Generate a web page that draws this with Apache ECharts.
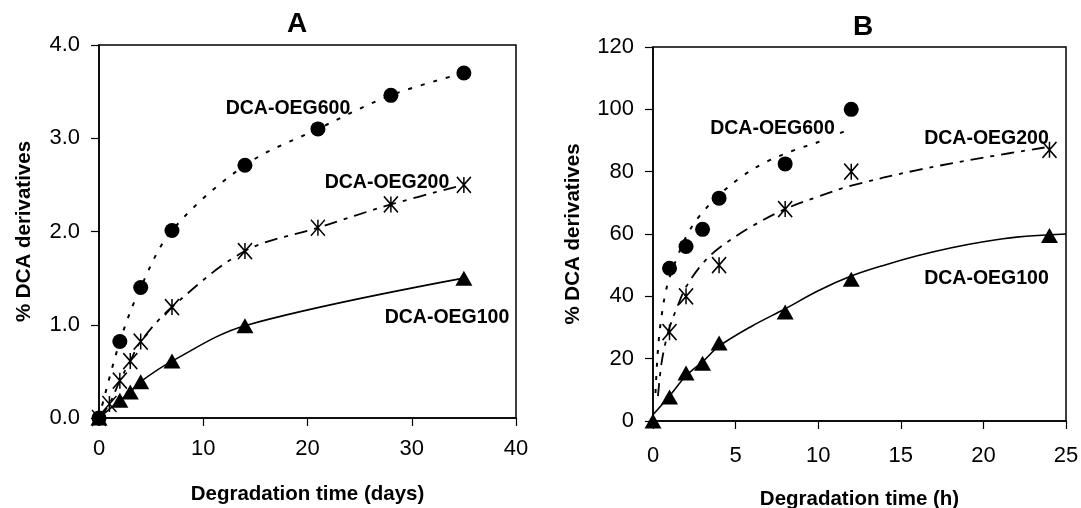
<!DOCTYPE html>
<html>
<head>
<meta charset="utf-8">
<title>DCA derivatives release</title>
<script src="https://cdn.jsdelivr.net/npm/echarts@6/dist/echarts.min.js"></script>
<style>
  html, body { margin: 0; padding: 0; background: #fff; }
  #chart { width: 1081px; height: 508px; }
</style>
</head>
<body>
<div id="chart"></div>
<script>
// ---- Panel A: release over days (measured points, smoothed through) ----
const daysA600 = [0, 2, 4, 7, 14, 21, 28, 35];
const pctA600  = [0, 0.82, 1.40, 2.01, 2.71, 3.10, 3.46, 3.70];
const daysA200 = [0, 1, 2, 3, 4, 7, 14, 21, 28, 35];
const pctA200  = [0, 0.15, 0.40, 0.61, 0.82, 1.19, 1.79, 2.04, 2.29, 2.50];
const daysA100 = [0, 2, 3, 4, 7, 14, 35];
const pctA100  = [0, 0.19, 0.28, 0.39, 0.61, 0.99, 1.50];

// ---- Panel B: release over hours (measured points) ----
const hoursB600 = [1, 2, 3, 4, 8, 12];
const pctB600   = [49, 56, 61.5, 71.5, 82.5, 100];
const hoursB200 = [1, 2, 4, 8, 12, 24];
const pctB200   = [28.5, 40, 50, 68, 80, 87];
const hoursB100 = [0, 1, 2, 3, 4, 8, 12, 24];
const pctB100   = [0, 7.7, 15.4, 18.5, 25, 35, 45.5, 59.5];

// ---- Panel B: fitted trend curves ----
const trendB600Hours = [0.15, 0.25, 0.35, 0.5, 0.75, 1, 1.5, 2, 2.7, 4, 5.4, 6.8, 8.6, 10, 11.6];
const trendB600Pct   = [9, 19, 26, 33, 41, 46, 53, 59, 65, 72.5, 78.5, 83, 87, 89.5, 93];
const trendB200Hours = [0.3, 0.5, 0.75, 1, 1.5, 2, 3, 4, 6, 8, 10, 12, 16, 20, 24];
const trendB200Pct   = [8, 18, 25, 30, 37, 43, 50.5, 55.5, 62.5, 68, 72, 75.5, 80.5, 84.5, 88];
const trendB100Hours = [0, 1, 2, 3, 4, 6, 8, 10, 12, 14, 16, 18, 20, 22, 25];
const trendB100Pct   = [2, 8, 14.5, 19, 24, 30.5, 36, 41.8, 46.5, 50, 53, 55.5, 57.5, 59, 60];

// ---- axis ticks ----
const ticksA_x = [0, 40, 10];   // min, max, step
const ticksA_y = [0, 4, 1];
const ticksB_x = [0, 25, 5];
const ticksB_y = [0, 120, 20];

const pairs = (xs, ys) => xs.map((x, i) => [x, ys[i]]);

const INK = '#000';
const tickFont = 'Liberation Sans';
const boldFont = 'Liberation Sans';
const starPath = 'path://M0 0L12 14M12 0L0 14M6 0L6 14';

const DOTTED = [4, 9];
const DASHDOT = [13, 7, 4, 7];

function xAxis(grid, t, name, gap, margin) {
  return {
    type: 'value', gridIndex: grid, min: t[0], max: t[1], interval: t[2],
    name: name, nameLocation: 'middle', nameGap: gap,
    nameTextStyle: { fontFamily: boldFont, fontWeight: 'bold', fontSize: 20.5, color: INK },
    axisLine: { show: true, onZero: false, lineStyle: { color: INK, width: 1.5 } },
    axisTick: { show: true, inside: false, length: 8, lineStyle: { color: INK, width: 1.2 } },
    axisLabel: { fontFamily: tickFont, fontSize: 22, color: INK, margin: margin },
    splitLine: { show: false }
  };
}
function yAxis(grid, t, name, gap, digits) {
  return {
    type: 'value', gridIndex: grid, min: t[0], max: t[1], interval: t[2],
    name: name, nameLocation: 'middle', nameGap: gap, nameRotate: 90,
    nameTextStyle: { fontFamily: boldFont, fontWeight: 'bold', fontSize: 20.5, color: INK },
    axisLine: { show: true, onZero: false, lineStyle: { color: INK, width: 1.5 } },
    axisTick: { show: true, inside: false, length: 8, lineStyle: { color: INK, width: 1.2 } },
    axisLabel: { fontFamily: tickFont, fontSize: 22, color: INK, margin: 19,
                 formatter: v => v.toFixed(digits) },
    splitLine: { show: false }
  };
}
function curve(idx, data, dash, width) {
  return {
    type: 'line', xAxisIndex: idx, yAxisIndex: idx, data: data,
    smooth: 0.35, showSymbol: false, symbol: 'none', silent: true,
    lineStyle: { color: INK, width: width, type: dash },
    z: 2
  };
}
function marks(idx, data, symbol, size, extra) {
  return Object.assign({
    type: 'scatter', xAxisIndex: idx, yAxisIndex: idx, data: data,
    symbol: symbol, symbolSize: size, silent: true,
    itemStyle: { color: INK, opacity: 1 },
    z: 3
  }, extra || {});
}
const starStyle = { itemStyle: { color: INK, borderColor: INK, borderWidth: 1.6, opacity: 1 } };

function label(text, x, y, opts) {
  return {
    type: 'text', x: x, y: y, z: 10,
    style: Object.assign({
      text: text, fill: INK,
      font: 'bold 19.5px "' + boldFont + '"',
      textAlign: 'center', textVerticalAlign: 'middle',
      align: 'center', verticalAlign: 'middle'
    }, opts || {})
  };
}

const chart = echarts.init(document.getElementById('chart'), null, { renderer: 'canvas' });
chart.setOption({
  animation: false,
  backgroundColor: '#fff',
  grid: [
    { left: 99, top: 45, width: 417, height: 373, show: true, borderColor: INK, borderWidth: 1.5,
      backgroundColor: 'transparent', containLabel: false, outerBoundsMode: 'none' },
    { left: 653, top: 47, width: 413, height: 374, show: true, borderColor: INK, borderWidth: 1.5,
      backgroundColor: 'transparent', containLabel: false, outerBoundsMode: 'none' }
  ],
  xAxis: [
    xAxis(0, ticksA_x, 'Degradation time (days)', 66, 20),
    xAxis(1, ticksB_x, 'Degradation time (h)', 68, 24)
  ],
  yAxis: [
    yAxis(0, ticksA_y, '% DCA derivatives', 64, 1),
    yAxis(1, ticksB_y, '% DCA derivatives', 69, 0)
  ],
  series: [
    // Panel A curves through the measurements
    curve(0, pairs(daysA600, pctA600), DOTTED, 2),
    curve(0, pairs(daysA200, pctA200), DASHDOT, 1.8),
    curve(0, pairs(daysA100, pctA100), 'solid', 1.6),
    // Panel B fitted curves
    curve(1, pairs(trendB600Hours, trendB600Pct), DOTTED, 2),
    curve(1, pairs(trendB200Hours, trendB200Pct), DASHDOT, 1.8),
    curve(1, pairs(trendB100Hours, trendB100Pct), 'solid', 1.6),
    // markers
    marks(0, pairs(daysA100, pctA100), 'triangle', [17, 15]),
    marks(0, pairs(daysA200, pctA200), starPath, [14, 16], starStyle),
    marks(0, pairs(daysA600, pctA600), 'circle', 15),
    marks(1, pairs(hoursB100, pctB100), 'triangle', [17, 15]),
    marks(1, pairs(hoursB200, pctB200), starPath, [14, 16], starStyle),
    marks(1, pairs(hoursB600, pctB600), 'circle', 15)
  ],
  graphic: [
    { type: 'text', x: 297, y: 24, z: 10, style: { text: 'A', fill: INK, font: 'bold 28px "' + boldFont + '"',
      textAlign: 'center', textVerticalAlign: 'middle', align: 'center', verticalAlign: 'middle' } },
    { type: 'text', x: 863, y: 27, z: 10, style: { text: 'B', fill: INK, font: 'bold 28px "' + boldFont + '"',
      textAlign: 'center', textVerticalAlign: 'middle', align: 'center', verticalAlign: 'middle' } },
    label('DCA-OEG600', 288, 109),
    label('DCA-OEG200', 387, 182.5),
    label('DCA-OEG100', 447, 318),
    label('DCA-OEG600', 772.5, 129, { backgroundColor: '#fff', padding: [0, 3] }),
    label('DCA-OEG200', 986.5, 139),
    label('DCA-OEG100', 986.5, 278.5)
  ]
});
</script>
</body>
</html>
